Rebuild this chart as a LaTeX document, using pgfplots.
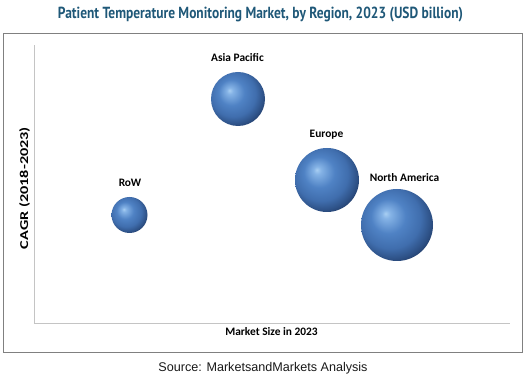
\documentclass[border=0pt]{standalone}
\usepackage{pgfplots}
\pgfplotsset{compat=1.18}
\usepackage{graphicx}
\usepackage{fontspec}
\setmainfont{Carlito}
\newfontfamily\titlefont{PT Sans}
\newfontfamily\srcfont{Liberation Sans}
\definecolor{titleblue}{RGB}{31,88,120}
\definecolor{boxgray}{RGB}{128,128,128}
\definecolor{axisgray}{RGB}{196,196,196}
\pgfdeclareradialshading{sphereshade}{\pgfpoint{-8bp}{8bp}}{%
 rgb(0bp)=(0.66,0.81,0.95);
 rgb(3bp)=(0.52,0.70,0.90);
 rgb(12bp)=(0.31,0.51,0.77);
 rgb(21bp)=(0.25,0.43,0.68);
 rgb(27bp)=(0.18,0.32,0.53);
 rgb(33bp)=(0.10,0.18,0.33);
 rgb(50bp)=(0.10,0.18,0.33)}
\pgfdeclareplotmark{sphere}{%
  \pgfpathcircle{\pgfpointorigin}{\pgfplotmarksize}%
  \pgfshadepath{sphereshade}{0}%
  \pgfusepath{}%
}
\begin{document}
\begin{tikzpicture}[x=1pt,y=1pt]
\path[use as bounding box] (0,0) rectangle (528,382);
\draw[boxgray, line width=0.9pt] (3.5,30) rectangle (522.5,349);
\node at (260.5,367.3) {\resizebox*{405pt}{15pt}{\titlefont\bfseries\color{titleblue}Patient Temperature Monitoring Market, by Region, 2023 (USD billion)}};
\begin{axis}[
  at={(34pt,59pt)}, anchor=south west,
  scale only axis, width=476pt, height=278pt,
  xmin=0, xmax=476, ymin=0, ymax=278,
  axis x line=bottom, axis y line=left,
  axis line style={-, draw=axisgray, line width=0.8pt},
  xtick=\empty, ytick=\empty,
  clip=false,
]
% Asia Pacific
\addplot[only marks, mark=sphere, mark size=27pt] coordinates {(204,224)};
% Europe
\addplot[only marks, mark=sphere, mark size=32pt] coordinates {(293,143)};
% North America
\addplot[only marks, mark=sphere, mark size=36pt] coordinates {(363,98)};
% RoW
\addplot[only marks, mark=sphere, mark size=18pt] coordinates {(95.5,108)};
\node[anchor=base, font=\fontsize{11.4}{12}\selectfont\bfseries] at (axis cs:203.5,261) {Asia Pacific};
\node[anchor=base, font=\fontsize{11.4}{12}\selectfont\bfseries] at (axis cs:292.5,185) {Europe};
\node[anchor=base, font=\fontsize{11.4}{12}\selectfont\bfseries] at (axis cs:370.5,141) {North America};
\node[anchor=base, font=\fontsize{11.4}{12}\selectfont\bfseries] at (axis cs:96,136) {RoW};
\end{axis}
\node[font=\fontsize{11.4}{12}\selectfont\bfseries] at (271.5,50) {Market Size in 2023};
\node[rotate=90, font=\fontsize{12}{13}\selectfont\bfseries] at (24.5,194) {\scalebox{1.35}[1]{CAGR (2018-2023)}};
\node[font=\srcfont\fontsize{12.6}{14}\selectfont, text=black!90] at (263,14) {Source: MarketsandMarkets Analysis};
\end{tikzpicture}
\end{document}
